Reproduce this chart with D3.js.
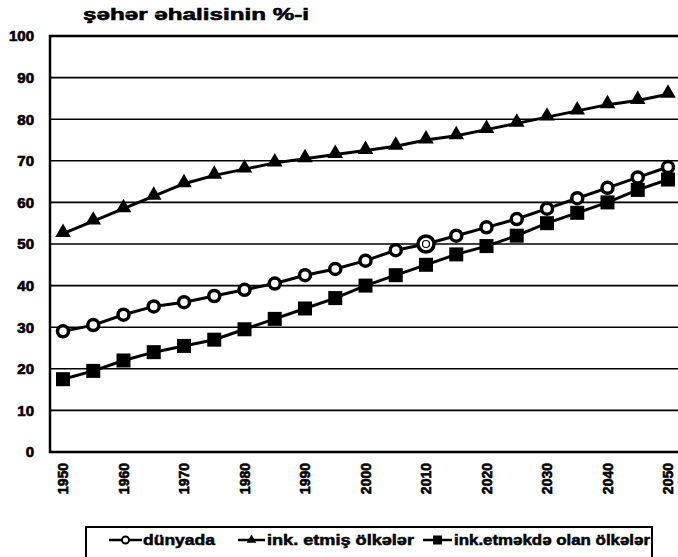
<!DOCTYPE html>
<html>
<head>
<meta charset="utf-8">
<script src="https://cdn.jsdelivr.net/npm/d3@7"></script>
<style>
  body { margin: 0; background: #fff; }
  svg { display: block; font-family: "Liberation Sans", Arial, sans-serif; font-weight: bold; }
</style>
</head>
<body>
<div id="chart"></div>
<script>
// years (every 5 years) and urban share of population, %
var years = [1950, 1955, 1960, 1965, 1970, 1975, 1980, 1985, 1990, 1995, 2000,
             2005, 2010, 2015, 2020, 2025, 2030, 2035, 2040, 2045, 2050];
var world = [29, 30.5, 33, 35, 36, 37.5, 39, 40.5, 42.5, 44, 46,
             48.5, 50, 52, 54, 56, 58.5, 61, 63.5, 66, 68.5];
var developed = [52.5, 55.5, 58.5, 61.5, 64.5, 66.5, 68, 69.5, 70.5, 71.5, 72.5,
                 73.5, 75, 76, 77.5, 79, 80.5, 82, 83.5, 84.5, 86];
var developing = [17.5, 19.5, 22, 24, 25.5, 27, 29.5, 32, 34.5, 37, 40,
                  42.5, 45, 47.5, 49.5, 52, 55, 57.5, 60, 63, 65.5];
var xTicks = [1950, 1960, 1970, 1980, 1990, 2000, 2010, 2020, 2030, 2040, 2050];
var yTicks = [0, 10, 20, 30, 40, 50, 60, 70, 80, 90, 100];
var seriesNames = ['dünyada', 'ink. etmiş ölkələr', 'ink.etməkdə olan ölkələr'];
var title = 'şəhər əhalisinin %-i';

var width = 678, height = 557;
var plot = { left: 50, right: 678, top: 36, bottom: 452 };

var svg = d3.select('#chart').append('svg')
	.attr('width', width)
	.attr('height', height);

var x = d3.scaleLinear().domain([1950, 2050]).range([63, 668]);
var y = d3.scaleLinear().domain([0, 100]).range([plot.bottom, plot.top]);

// gridlines
svg.append('g')
	.selectAll('line')
	.data(yTicks.filter(function(d) { return d > 0 && d < 100; }))
	.enter()
	.append('line')
	.attr('x1', plot.left)
	.attr('x2', plot.right)
	.attr('y1', function(d) { return y(d); })
	.attr('y2', function(d) { return y(d); })
	.attr('stroke', '#000')
	.attr('stroke-width', 1.6);

// frame
svg.append('path')
	.attr('d', 'M' + plot.right + ',' + plot.top + 'H' + plot.left + 'V' + plot.bottom + 'H' + plot.right)
	.attr('fill', 'none')
	.attr('stroke', '#000')
	.attr('stroke-width', 2.5);

// y axis labels
var yAxis = svg.append('g')
	.attr('transform', 'translate(' + plot.left + ',0)')
	.call(d3.axisLeft(y).tickValues(yTicks).tickSize(0).tickPadding(16));
yAxis.select('.domain').remove();
yAxis.selectAll('text')
	.attr('font-size', 15)
	.attr('font-weight', 'bold')
	.attr('font-family', '"Liberation Sans", Arial, sans-serif')
	.attr('fill', '#000')
	.attr('stroke', '#000')
	.attr('stroke-width', 0.7);

// x axis labels (rotated)
var xAxis = svg.append('g')
	.attr('transform', 'translate(0,' + plot.bottom + ')')
	.call(d3.axisBottom(x).tickValues(xTicks).tickFormat(d3.format('d')).tickSize(0));
xAxis.select('.domain').remove();
xAxis.selectAll('text')
	.attr('font-size', 14)
	.attr('font-weight', 'bold')
	.attr('font-family', '"Liberation Sans", Arial, sans-serif')
	.attr('fill', '#000')
	.attr('stroke', '#000')
	.attr('stroke-width', 0.6)
	.attr('text-anchor', 'end')
	.attr('dy', '0.35em')
	.attr('transform', 'translate(0,11) rotate(-90)')
	.attr('x', 0)
	.attr('y', 0);

// title
svg.append('text')
	.attr('x', 83)
	.attr('y', 20)
	.attr('font-size', 17)
	.attr('stroke', '#000')
	.attr('stroke-width', 0.6)
	.attr('textLength', 226)
	.attr('lengthAdjust', 'spacingAndGlyphs')
	.text(title);

// lines
var line = d3.line()
	.x(function(d, i) { return x(years[i]); })
	.y(function(d) { return y(d); });

[world, developed, developing].forEach(function(s) {
	svg.append('path')
		.datum(s)
		.attr('fill', 'none')
		.attr('stroke', '#000')
		.attr('stroke-width', 3)
		.attr('d', line);
});

var tri = d3.symbol().type(d3.symbolTriangle).size(105);

// developed: triangles
svg.append('g').selectAll('path')
	.data(developed)
	.enter()
	.append('path')
	.attr('d', tri)
	.attr('transform', function(d, i) { return 'translate(' + x(years[i]) + ',' + (y(d) - 1) + ')'; })
	.attr('fill', '#000');

// developing: squares
svg.append('g').selectAll('rect')
	.data(developing)
	.enter()
	.append('rect')
	.attr('x', function(d, i) { return x(years[i]) - 7; })
	.attr('y', function(d) { return y(d) - 7; })
	.attr('width', 14)
	.attr('height', 14)
	.attr('fill', '#000');

// world: open circles
svg.append('g').selectAll('circle')
	.data(world)
	.enter()
	.append('circle')
	.attr('cx', function(d, i) { return x(years[i]); })
	.attr('cy', function(d) { return y(d); })
	.attr('r', function(d, i) { return years[i] === 2010 ? 8 : 5.5; })
	.attr('fill', '#fff')
	.attr('stroke', '#000')
	.attr('stroke-width', 3.5);
// 2010 point: ring inside the large marker
svg.append('circle')
	.attr('cx', x(2010))
	.attr('cy', y(world[years.indexOf(2010)]))
	.attr('r', 3.5)
	.attr('fill', 'none')
	.attr('stroke', '#000')
	.attr('stroke-width', 1.2);

// legend
var legend = svg.append('g');
legend.append('rect')
	.attr('x', 86)
	.attr('y', 527)
	.attr('width', 566)
	.attr('height', 40)
	.attr('fill', '#fff')
	.attr('stroke', '#000')
	.attr('stroke-width', 2);

var legendItems = [
	{ name: seriesNames[0], x1: 109, x2: 142, tx: 143, tw: 72, mark: 'circle' },
	{ name: seriesNames[1], x1: 238, x2: 265, tx: 267, tw: 147, mark: 'tri' },
	{ name: seriesNames[2], x1: 423, x2: 452, tx: 454, tw: 196, mark: 'square' }
];
var ly = 540;
legendItems.forEach(function(it) {
	legend.append('line')
		.attr('x1', it.x1).attr('x2', it.x2)
		.attr('y1', ly).attr('y2', ly)
		.attr('stroke', '#000').attr('stroke-width', 2.5);
	var cx = (it.x1 + it.x2) / 2;
	if (it.mark === 'circle') {
		legend.append('circle').attr('cx', cx).attr('cy', ly).attr('r', 3.5)
			.attr('fill', '#fff').attr('stroke', '#000').attr('stroke-width', 2);
	} else if (it.mark === 'tri') {
		legend.append('path').attr('d', d3.symbol().type(d3.symbolTriangle).size(40))
			.attr('transform', 'translate(' + cx + ',' + ly + ')').attr('fill', '#000');
	} else {
		legend.append('rect').attr('x', cx - 4.5).attr('y', ly - 4.5)
			.attr('width', 9).attr('height', 9).attr('fill', '#000');
	}
	legend.append('text')
		.attr('x', it.tx)
		.attr('y', ly + 5)
		.attr('font-size', 14)
		.attr('stroke', '#000')
		.attr('stroke-width', 0.5)
		.attr('textLength', it.tw)
		.attr('lengthAdjust', 'spacingAndGlyphs')
		.text(it.name);
});
</script>
</body>
</html>
